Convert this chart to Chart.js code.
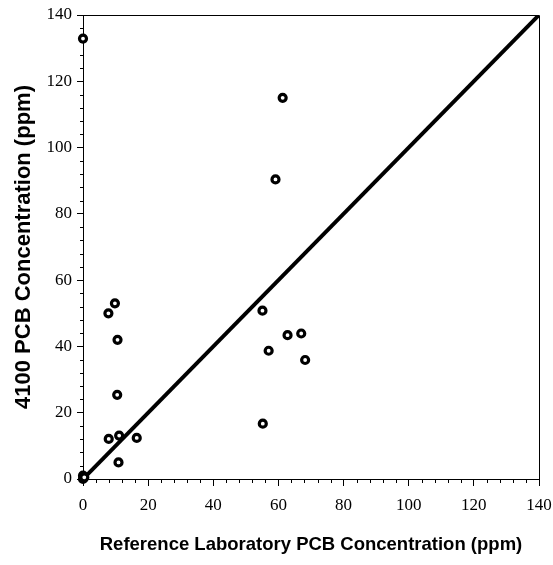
<!DOCTYPE html>
<html><head><meta charset="utf-8">
<script src="https://cdn.jsdelivr.net/npm/chart.js@4"></script>
<style>html,body{margin:0;padding:0;background:#fff}#wrap{width:553px;height:565px}</style>
</head><body><div id="wrap"><canvas id="c" width="553" height="565"></canvas></div>
<script>
const refX = [0, 0, 0, 0.4, 7.8, 9.8, 10.6, 10.5, 7.9, 11.1, 16.5, 10.9, 61.3, 59.1, 55.1, 62.8, 67.0, 57.0, 68.2, 55.2];
const obsY = [132.9, 0, 1, 0.5, 50.0, 53.0, 42.0, 25.4, 12.1, 13.1, 12.4, 5.0, 115.0, 90.4, 50.8, 43.4, 43.9, 38.7, 35.9, 16.7];
const lineX = [0, 140];
const lineY = [0, 140];
const majorTicks = [0, 20, 40, 60, 80, 100, 120, 140];
const minorStep = 4;
const xTitle = 'Reference Laboratory PCB Concentration (ppm)';
const yTitle = '4100 PCB Concentration (ppm)';

const points = refX.map((x, i) => ({x, y: obsY[i]}));
const linePts = lineX.map((x, i) => ({x, y: lineY[i]}));

const minorPlugin = {
  id: 'minor',
  afterDraw(chart) {
    const ctx = chart.ctx, xs = chart.scales.x, ys = chart.scales.y;
    ctx.save();
    ctx.strokeStyle = '#000'; ctx.lineWidth = 1;
    const a = chart.chartArea;
    ctx.beginPath();
    ctx.moveTo(a.left, a.top + 0.5); ctx.lineTo(a.right + 0.5, a.top + 0.5); ctx.lineTo(a.right + 0.5, a.bottom);
    ctx.stroke();
    for (let v = 0; v <= 140; v += minorStep) {
      if (majorTicks.includes(v)) continue;
      const px = Math.round(xs.getPixelForValue(v)) + 0.5;
      ctx.beginPath(); ctx.moveTo(px, a.bottom); ctx.lineTo(px, a.bottom + 4); ctx.stroke();
      const py = Math.round(ys.getPixelForValue(v)) + 0.5;
      ctx.beginPath(); ctx.moveTo(a.left, py); ctx.lineTo(a.left - 3, py); ctx.stroke();
    }
    ctx.restore();
  }
};

new Chart(document.getElementById('c'), {
  type: 'scatter',
  data: {
    datasets: [
      {type: 'line', data: linePts, borderColor: '#000', borderWidth: 4, pointRadius: 0, fill: false, order: 1},
      {data: points, clip: false, pointStyle: 'circle', pointRadius: 3.5, pointBorderWidth: 3.2, pointBackgroundColor: '#fff', pointBorderColor: '#000', order: 0}
    ]
  },
  options: {
    responsive: false, animation: false, devicePixelRatio: 1,
    layout: {padding: {left: 0, right: 14, top: 15, bottom: 0}},
    plugins: {legend: {display: false}, tooltip: {enabled: false}},
    scales: {
      x: {
        type: 'linear', min: 0, max: 140,
        afterBuildTicks: s => { s.ticks = majorTicks.map(v => ({value: v})); },
        afterFit: s => { s.height = 86; s.paddingLeft = 0; s.paddingRight = 0; },
        grid: {drawOnChartArea: false, tickLength: 7, color: '#000', tickColor: '#000'},
        border: {color: '#000', width: 1},
        ticks: {color: '#000', font: {family: 'Liberation Serif', size: 17}, padding: 9, maxRotation: 0},
        title: {display: true, text: xTitle, color: '#000', font: {family: 'Liberation Sans', size: 18.5, weight: 'bold'}, padding: {top: 4, bottom: 9}}
      },
      y: {
        type: 'linear', min: 0, max: 140,
        afterBuildTicks: s => { s.ticks = majorTicks.map(v => ({value: v})); },
        afterFit: s => { s.width = 83; s.paddingTop = 0; s.paddingBottom = 0; },
        grid: {drawOnChartArea: false, tickLength: 6, color: '#000', tickColor: '#000'},
        border: {color: '#000', width: 1},
        ticks: {color: '#000', font: {family: 'Liberation Serif', size: 17}, padding: 5},
        title: {display: true, text: yTitle, color: '#000', font: {family: 'Liberation Sans', size: 22, weight: 'bold'}, padding: {top: 11, bottom: 4}}
      }
    }
  },
  plugins: [minorPlugin]
});
</script></body></html>
